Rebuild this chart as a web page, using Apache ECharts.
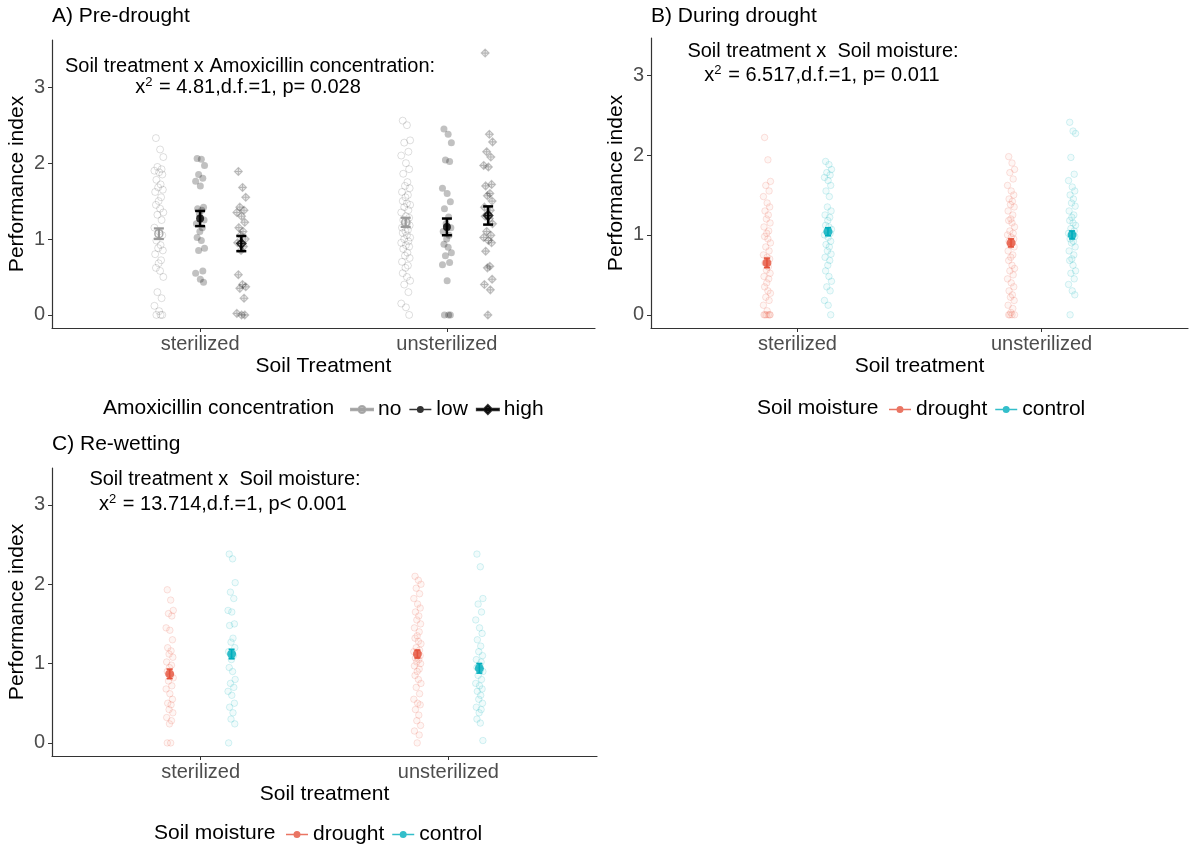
<!DOCTYPE html>
<html>
<head>
<meta charset="utf-8">
<script src="https://cdn.jsdelivr.net/npm/echarts@6/dist/echarts.min.js"></script>
<style>
html,body{margin:0;padding:0;background:#fff;}
#main{width:1192px;height:849px;}
</style>
</head>
<body>
<div id="main"></div>
<script>
// ---------------- DATA ----------------
const categories = ['sterilized', 'unsterilized'];
const yTicks = [0, 1, 2, 3];

// Panel A: Pre-drought (Amoxicillin concentration)
const A_no_ster = [2.33, 2.18, 2.08, 1.95, 1.92, 1.9, 1.88, 1.85, 1.78, 1.72, 1.68, 1.65, 1.62, 1.55, 1.5, 1.45, 1.4, 1.35, 1.32, 1.25, 1.15, 1.1, 1.05, 0.98, 0.92, 0.88, 0.85, 0.8, 0.72, 0.68, 0.62, 0.58, 0.5, 0.3, 0.22, 0.12, 0.05, 0, 0, 0];
const A_no_unster = [2.56, 2.5, 2.3, 2.27, 2.15, 2.1, 2.0, 1.92, 1.86, 1.75, 1.7, 1.67, 1.62, 1.58, 1.55, 1.5, 1.47, 1.45, 1.42, 1.38, 1.35, 1.3, 1.28, 1.25, 1.22, 1.2, 1.18, 1.15, 1.12, 1.1, 1.08, 1.05, 1.02, 1.0, 0.97, 0.95, 0.92, 0.9, 0.87, 0.82, 0.78, 0.75, 0.7, 0.65, 0.62, 0.55, 0.5, 0.45, 0.4, 0.3, 0.15, 0.1, 0];
const A_low_ster = [2.06, 2.05, 1.97, 1.85, 1.8, 1.76, 1.7, 1.42, 1.4, 1.38, 1.33, 1.25, 1.2, 1.15, 1.1, 1.02, 0.98, 0.88, 0.85, 0.58, 0.55, 0.47, 0.43];
const A_low_unster = [2.45, 2.38, 2.27, 2.04, 2.02, 1.67, 1.6, 1.49, 1.4, 1.29, 1.2, 1.15, 1.1, 1.05, 1.0, 0.93, 0.89, 0.82, 0.78, 0.69, 0.66, 0.45, 0, 0, 0];
const A_high_ster = [1.89, 1.68, 1.55, 1.42, 1.38, 1.35, 1.3, 1.22, 1.15, 1.1, 1.05, 1.0, 0.95, 0.9, 0.85, 0.53, 0.4, 0.37, 0.35, 0.22, 0.02, 0, 0];
const A_high_unster = [3.45, 2.38, 2.28, 2.15, 2.08, 1.97, 1.95, 1.72, 1.7, 1.6, 1.57, 1.5, 1.42, 1.38, 1.33, 1.3, 1.27, 1.2, 1.1, 1.05, 1.02, 0.98, 0.95, 0.84, 0.64, 0.62, 0.47, 0.4, 0.33, 0];
const A_mean_no = [1.07, 1.22], A_se_no = [0.07, 0.06];
const A_mean_low = [1.27, 1.16], A_se_low = [0.1, 0.11];
const A_mean_high = [0.94, 1.31], A_se_high = [0.1, 0.12];

// Panel B: During drought (Soil moisture)
const B_drought_ster = [2.22, 1.94, 1.67, 1.62, 1.55, 1.48, 1.4, 1.35, 1.3, 1.25, 1.2, 1.15, 1.1, 1.05, 1.02, 0.98, 0.95, 0.9, 0.85, 0.8, 0.75, 0.72, 0.7, 0.65, 0.6, 0.56, 0.52, 0.48, 0.45, 0.4, 0.35, 0.3, 0.27, 0.22, 0.18, 0.12, 0.05, 0, 0, 0, 0, 0, 0];
const B_drought_unster = [1.98, 1.9, 1.82, 1.78, 1.7, 1.62, 1.55, 1.5, 1.45, 1.42, 1.38, 1.35, 1.3, 1.25, 1.2, 1.18, 1.15, 1.1, 1.05, 1.02, 1.0, 0.97, 0.95, 0.92, 0.9, 0.87, 0.85, 0.8, 0.75, 0.72, 0.68, 0.62, 0.58, 0.55, 0.5, 0.45, 0.4, 0.35, 0.3, 0.25, 0.22, 0.18, 0.12, 0.08, 0.03, 0, 0, 0, 0];
const B_control_ster = [1.92, 1.88, 1.82, 1.78, 1.75, 1.72, 1.68, 1.62, 1.55, 1.48, 1.35, 1.3, 1.25, 1.22, 1.18, 1.12, 1.1, 1.07, 1.05, 1.02, 1.0, 0.97, 0.92, 0.88, 0.85, 0.8, 0.76, 0.72, 0.68, 0.62, 0.55, 0.48, 0.42, 0.35, 0.3, 0.18, 0.12, 0];
const B_control_unster = [2.41, 2.3, 2.27, 1.97, 1.76, 1.68, 1.6, 1.55, 1.5, 1.45, 1.4, 1.36, 1.3, 1.25, 1.22, 1.18, 1.15, 1.12, 1.08, 1.05, 1.02, 1.0, 0.98, 0.95, 0.92, 0.9, 0.85, 0.8, 0.75, 0.7, 0.68, 0.62, 0.55, 0.52, 0.45, 0.38, 0.3, 0.25, 0];
const B_mean_drought = [0.65, 0.9], B_se_drought = [0.06, 0.05];
const B_mean_control = [1.04, 1.0], B_se_control = [0.05, 0.05];

// Panel C: Re-wetting (Soil moisture)
const C_drought_ster = [1.93, 1.8, 1.67, 1.63, 1.6, 1.45, 1.42, 1.3, 1.2, 1.16, 1.12, 1.08, 1.02, 0.98, 0.95, 0.9, 0.85, 0.82, 0.78, 0.72, 0.68, 0.62, 0.55, 0.5, 0.48, 0.42, 0.38, 0.32, 0.28, 0.24, 0, 0];
const C_drought_unster = [2.1, 2.05, 2.0, 1.95, 1.88, 1.82, 1.75, 1.7, 1.65, 1.6, 1.55, 1.5, 1.45, 1.4, 1.35, 1.32, 1.28, 1.25, 1.2, 1.17, 1.15, 1.12, 1.1, 1.07, 1.05, 1.02, 1.0, 0.97, 0.93, 0.9, 0.85, 0.8, 0.75, 0.7, 0.62, 0.55, 0.5, 0.48, 0.42, 0.35, 0.28, 0.22, 0.15, 0.1, 0];
const C_control_ster = [2.38, 2.32, 2.02, 1.9, 1.82, 1.67, 1.65, 1.5, 1.48, 1.32, 1.27, 1.2, 1.15, 1.1, 1.05, 0.95, 0.9, 0.8, 0.75, 0.7, 0.65, 0.6, 0.5, 0.45, 0.38, 0.3, 0.24, 0];
const C_control_unster = [2.38, 2.22, 1.82, 1.75, 1.65, 1.55, 1.45, 1.38, 1.3, 1.22, 1.15, 1.1, 1.05, 1.02, 0.98, 0.95, 0.92, 0.9, 0.85, 0.8, 0.75, 0.72, 0.68, 0.65, 0.6, 0.55, 0.5, 0.45, 0.42, 0.38, 0.3, 0.25, 0.03];
const C_mean_drought = [0.87, 1.12], C_se_drought = [0.06, 0.05];
const C_mean_control = [1.12, 0.94], C_se_control = [0.06, 0.06];

// ---------------- STYLE / HELPERS ----------------
const FONT = 'Liberation Sans, Arial, Helvetica, sans-serif';
const RED = '#E5533C', CYAN = '#00AEBD';
const JIT = [-0.6, 0.25, 0.9, -0.3, 0.55, -0.9, 0.05, 0.7, -0.5, 0.35, -0.15, 0.8, -0.75, 0.45, -0.05];
function pts(vals, cat, dodge, jw) {
  return vals.map((v, i) => [cat + 1 + dodge + JIT[i % JIT.length] * jw, v]);
}
function meanData(means, ses, dodge) {
  return means.map((m, i) => [i + 1 + dodge, m, ses[i]]);
}
const DIAMOND_PLUS = 'path://M10,0L20,10L10,20L0,10Z M10,0L10,20 M0,10L20,10';

function errSeries(idx, data, color, lw, capHalf) {
  return {
    type: 'custom', xAxisIndex: idx, yAxisIndex: idx, z: 5, silent: true,
    data: data,
    renderItem: function (params, api) {
      const x = api.value(0), m = api.value(1), s = api.value(2);
      const t = api.coord([x, m + s]), b = api.coord([x, m - s]);
      const st = { stroke: color, lineWidth: lw };
      return { type: 'group', children: [
        { type: 'line', shape: { x1: t[0], y1: t[1], x2: b[0], y2: b[1] }, style: st },
        { type: 'line', shape: { x1: t[0] - capHalf, y1: t[1], x2: t[0] + capHalf, y2: t[1] }, style: st },
        { type: 'line', shape: { x1: b[0] - capHalf, y1: b[1], x2: b[0] + capHalf, y2: b[1] }, style: st }
      ] };
    }
  };
}
function ptSeries(idx, data, symbol, size, itemStyle) {
  return { type: 'scatter', xAxisIndex: idx, yAxisIndex: idx, data: data, symbol: symbol,
    symbolSize: size, itemStyle: itemStyle, silent: true, z: 2 };
}
function meanSeries(name, idx, data, symbol, size, itemStyle) {
  return { name: name, type: 'scatter', xAxisIndex: idx, yAxisIndex: idx, z: 6, silent: true,
    data: data.map(d => [d[0], d[1]]), symbol: symbol, symbolSize: size, itemStyle: itemStyle };
}

const grids = [
  { left: 52, top: 40, width: 543, height: 288 },
  { left: 651, top: 38, width: 537, height: 290 },
  { left: 52, top: 468, width: 545, height: 288 }
];
const yRanges = [[-0.1725, 3.6225], [-0.165, 3.465], [-0.165, 3.465]];
const xNames = ['Soil Treatment', 'Soil treatment', 'Soil treatment'];

const xAxes = grids.map((g, i) => ({
  type: 'value', gridIndex: i, min: 0.4, max: 2.6,
  name: xNames[i], nameLocation: 'middle', nameGap: 28,
  nameTextStyle: { fontSize: 21, color: '#000', fontFamily: FONT },
  axisLine: { show: true, onZero: false, lineStyle: { color: '#333', width: 1.2 } },
  axisTick: { show: true, length: 4, lineStyle: { color: '#333' }, customValues: [1, 2] },
  axisLabel: { customValues: [1, 2], margin: 6, fontSize: 20, color: '#4d4d4d', fontFamily: FONT,
    formatter: v => categories[Math.round(v) - 1] },
  splitLine: { show: false }
}));
const yAxes = grids.map((g, i) => ({
  type: 'value', gridIndex: i, min: yRanges[i][0], max: yRanges[i][1],
  name: 'Performance index', nameLocation: 'middle', nameGap: 24,
  nameTextStyle: { fontSize: 21, color: '#000', fontFamily: FONT },
  axisLine: { show: true, onZero: false, lineStyle: { color: '#333', width: 1.2 } },
  axisTick: { show: true, length: 4, lineStyle: { color: '#333' }, customValues: yTicks },
  axisLabel: { customValues: yTicks, margin: 7, fontSize: 20, color: '#4d4d4d', fontFamily: FONT },
  splitLine: { show: false }
}));

const dA = 0.167, dB = 0.125, jA = 0.02, jB = 0.016;
const series = [];
// Panel A points
series.push(ptSeries(0, pts(A_no_ster, 0, -dA, jA).concat(pts(A_no_unster, 1, -dA, jA)), 'circle', 7,
  { color: 'rgba(255,255,255,0)', borderColor: 'rgba(0,0,0,0.16)', borderWidth: 1 }));
series.push(ptSeries(0, pts(A_low_ster, 0, 0, jA).concat(pts(A_low_unster, 1, 0, jA)), 'circle', 7,
  { color: 'rgba(0,0,0,0.3)' }));
series.push(ptSeries(0, pts(A_high_ster, 0, dA, jA).concat(pts(A_high_unster, 1, dA, jA)), DIAMOND_PLUS, 8,
  { color: 'rgba(0,0,0,0.1)', borderColor: 'rgba(0,0,0,0.28)', borderWidth: 1.1 }));
const mNo = meanData(A_mean_no, A_se_no, -dA), mLow = meanData(A_mean_low, A_se_low, 0), mHigh = meanData(A_mean_high, A_se_high, dA);
series.push(errSeries(0, mNo, '#9a9a9a', 2.2, 5));
series.push(errSeries(0, mLow, '#000', 2.5, 5));
series.push(errSeries(0, mHigh, '#000', 2.5, 5));
series.push(meanSeries('no', 0, mNo, 'circle', 8, { color: 'rgba(255,255,255,0)', borderColor: '#9a9a9a', borderWidth: 1.5 }));
series.push(meanSeries('low', 0, mLow, 'circle', 8, { color: '#000' }));
series.push(meanSeries('high', 0, mHigh, DIAMOND_PLUS, 9, { color: 'rgba(0,0,0,0)', borderColor: '#000', borderWidth: 1.6 }));

// Panels B and C
const redPts = { color: 'rgba(229,83,60,0.07)', borderColor: 'rgba(229,83,60,0.2)', borderWidth: 1 };
const cyanPts = { color: 'rgba(0,174,189,0.07)', borderColor: 'rgba(0,174,189,0.2)', borderWidth: 1 };
[[1, B_drought_ster, B_drought_unster, B_control_ster, B_control_unster, B_mean_drought, B_se_drought, B_mean_control, B_se_control],
 [2, C_drought_ster, C_drought_unster, C_control_ster, C_control_unster, C_mean_drought, C_se_drought, C_mean_control, C_se_control]]
.forEach(p => {
  const idx = p[0];
  series.push(ptSeries(idx, pts(p[1], 0, -dB, jB).concat(pts(p[2], 1, -dB, jB)), 'circle', 6.5, redPts));
  series.push(ptSeries(idx, pts(p[3], 0, dB, jB).concat(pts(p[4], 1, dB, jB)), 'circle', 6.5, cyanPts));
  const md = meanData(p[5], p[6], -dB), mc = meanData(p[7], p[8], dB);
  series.push(errSeries(idx, md, RED, 1.6, 3));
  series.push(errSeries(idx, mc, CYAN, 1.6, 3));
  series.push(meanSeries('drought', idx, md, 'circle', 9, { color: RED }));
  series.push(meanSeries('control', idx, mc, 'circle', 9, { color: CYAN }));
});

// ---------------- TEXT ----------------
const tStyle = { fontSize: 20, fontWeight: 'normal', color: '#000', fontFamily: FONT };
const rich = {
  sup: { fontSize: 13, verticalAlign: 'top', lineHeight: 14, padding: [0, 1, 8, 0], fontFamily: FONT, color: '#000' },
  n: { fontSize: 20, fontFamily: FONT, color: '#000', lineHeight: 22 }
};
function txt(text, left, top, align, size) {
  return { text: text, left: left, top: top, padding: 0, textAlign: align || 'left',
    textStyle: Object.assign({}, tStyle, { rich: rich }, size ? { fontSize: size } : {}) };
}
const titles = [
  txt('A) Pre-drought', 52, 6, 'left', 21),
  txt('B) During drought', 651, 6, 'left', 21),
  txt('C) Re-wetting', 52, 434, 'left', 21),
  txt('Soil treatment x Amoxicillin concentration:', 250, 56, 'center'),
  txt('{n|x}{sup|2}{n| = 4.81,d.f.=1, p= 0.028}', 248, 76, 'center'),
  txt('Soil treatment x  Soil moisture:', 823, 41, 'center'),
  txt('{n|x}{sup|2}{n| = 6.517,d.f.=1, p= 0.011}', 822, 64, 'center'),
  txt('Soil treatment x  Soil moisture:', 225, 469, 'center'),
  txt('{n|x}{sup|2}{n| = 13.714,d.f.=1, p< 0.001}', 223, 493, 'center'),
  txt('Amoxicillin concentration', 103, 398, 'left', 21),
  txt('Soil moisture', 757, 398, 'left', 21),
  txt('Soil moisture', 154, 823, 'left', 21)
];

const ICON_DOT = 'path://M0,4.2H22V5.8H0Z M11,1.5A3.5,3.5,0,1,1,10.99,1.5Z';
const ICON_DIA = 'path://M0,4.2H22V5.8H0Z M11,0.5L15.5,5L11,9.5L6.5,5Z';
const legTxt = { fontSize: 21, color: '#000', fontFamily: FONT };
const legends = [
  { left: 350, top: 399, itemWidth: 22, itemHeight: 10, itemGap: 8, padding: 0, textStyle: legTxt,
    selectedMode: false,
    data: [{ name: 'no', icon: ICON_DOT, itemStyle: { color: '#b5b5b5' } },
           { name: 'low', icon: ICON_DOT, itemStyle: { color: '#000' } },
           { name: 'high', icon: ICON_DIA, itemStyle: { color: '#000' } }] },
  { left: 889, top: 399, itemWidth: 22, itemHeight: 10, itemGap: 8, padding: 0, textStyle: legTxt,
    selectedMode: false,
    data: [{ name: 'drought', icon: ICON_DOT, itemStyle: { color: RED } },
           { name: 'control', icon: ICON_DOT, itemStyle: { color: CYAN } }] },
  { left: 286, top: 824, itemWidth: 22, itemHeight: 10, itemGap: 8, padding: 0, textStyle: legTxt,
    selectedMode: false,
    data: [{ name: 'drought', icon: ICON_DOT, itemStyle: { color: RED } },
           { name: 'control', icon: ICON_DOT, itemStyle: { color: CYAN } }] }
];

const chart = echarts.init(document.getElementById('main'), null, { renderer: 'canvas' });
chart.setOption({
  animation: false,
  backgroundColor: '#fff',
  textStyle: { fontFamily: FONT },
  title: titles,
  legend: legends,
  grid: grids,
  xAxis: xAxes,
  yAxis: yAxes,
  series: series
});
</script>
</body>
</html>
